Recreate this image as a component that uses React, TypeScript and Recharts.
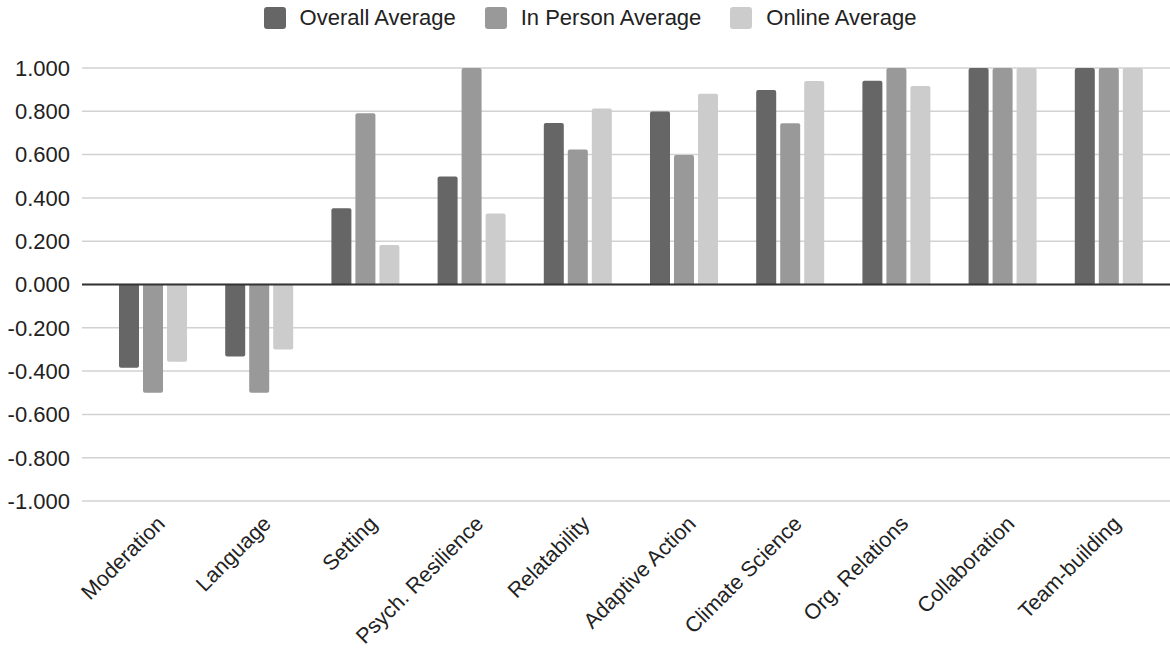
import React from "react";
import { BarChart, Bar, XAxis, YAxis, CartesianGrid, ReferenceLine } from "recharts";

const categories = [
  "Moderation",
  "Language",
  "Setting",
  "Psych. Resilience",
  "Relatability",
  "Adaptive Action",
  "Climate Science",
  "Org. Relations",
  "Collaboration",
  "Team-building",
];
const overallAverage = [-0.385, -0.333, 0.352, 0.499, 0.746, 0.799, 0.898, 0.941, 1.0, 1.0];
const inPersonAverage = [-0.5, -0.5, 0.791, 1.0, 0.624, 0.598, 0.745, 1.0, 1.0, 1.0];
const onlineAverage = [-0.357, -0.3, 0.182, 0.328, 0.813, 0.881, 0.94, 0.917, 1.0, 1.0];
const yTicks = [-1, -0.8, -0.6, -0.4, -0.2, 0, 0.2, 0.4, 0.6, 0.8, 1];

const seriesNames = ["Overall Average", "In Person Average", "Online Average"];
const seriesKeys = ["overall", "inPerson", "online"];
const seriesColors = ["#666666", "#999999", "#cccccc"];

const data = categories.map((c, i) => ({
  name: c,
  overall: overallAverage[i],
  inPerson: inPersonAverage[i],
  online: onlineAverage[i],
}));

const FONT = "'Liberation Sans', Arial, sans-serif";

const XTick = (props: any) => {
  const { x, y, payload } = props;
  return (
    <g transform={`translate(${x + 13},${y + 16})`}>
      <text
        x={0}
        y={0}
        textAnchor="end"
        transform="rotate(-45)"
        fontFamily={FONT}
        fontSize={21.5}
        fill="#222222"
      >
        {payload.value}
      </text>
    </g>
  );
};

export default function App() {
  return (
    <div style={{ position: "absolute", left: 0, top: 0, width: 1170, height: 649, background: "#fff" }}>
      <div
        style={{
          position: "absolute",
          left: 0,
          top: 4,
          width: 1170,
          display: "flex",
          justifyContent: "center",
          paddingLeft: 10,
          boxSizing: "border-box",
          fontFamily: FONT,
          fontSize: 22,
          color: "#222222",
        }}
      >
        {seriesNames.map((n, i) => (
          <div key={n} style={{ display: "flex", alignItems: "center", marginRight: i < 2 ? 29 : 0 }}>
            <div
              style={{
                width: 22,
                height: 22,
                borderRadius: 3,
                background: seriesColors[i],
                marginRight: 14,
              }}
            />
            <span style={{ lineHeight: "28px" }}>{n}</span>
          </div>
        ))}
      </div>
      <BarChart
        width={1170}
        height={649}
        data={data}
        margin={{ top: 68, right: 0, bottom: 0, left: 0 }}
        barGap={4}
        barSize={20}
      >
        <CartesianGrid vertical={false} stroke="#d2d2d2" strokeWidth={1.5} />
        <XAxis
          dataKey="name"
          interval={0}
          height={148}
          tickLine={false}
          axisLine={false}
          padding={{ left: 18, right: 8 }}
          tick={<XTick />}
        />
        <YAxis
          width={82}
          domain={[-1, 1]}
          ticks={yTicks}
          tickFormatter={(v: number) => v.toFixed(3)}
          tickLine={false}
          axisLine={false}
          tickMargin={6}
          tick={{ fontFamily: FONT, fontSize: 22, fill: "#222222" }}
          interval={0}
        />
        {seriesKeys.map((k, i) => (
          <Bar
            key={k}
            dataKey={k}
            name={seriesNames[i]}
            fill={seriesColors[i]}
            radius={[2, 2, 0, 0]}
            isAnimationActive={false}
          />
        ))}
        <ReferenceLine y={0} stroke="#333333" strokeWidth={2} />
      </BarChart>
    </div>
  );
}
